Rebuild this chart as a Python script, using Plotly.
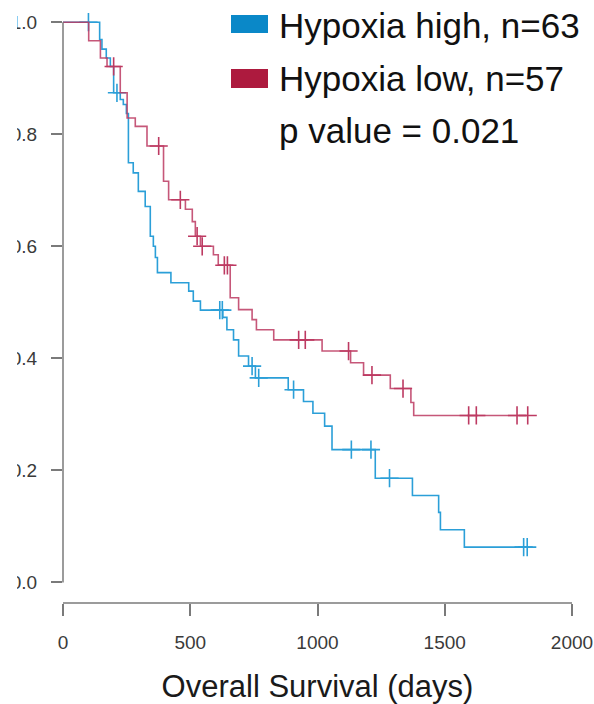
import plotly.graph_objects as go

# ---------------- data ----------------
high_label = "Hypoxia high, n=63"
low_label = "Hypoxia low, n=57"
p_text = "p value = 0.021"

# Hypoxia high: step points (day of drop, survival after drop)
high_event_days = [144, 153, 170, 186, 199, 225, 237, 249, 257, 276, 296, 323, 343, 355, 363,
                   371, 424, 494, 512, 540, 628, 644, 670, 690, 729, 756, 885, 945, 982, 1028,
                   1057, 1227, 1373, 1476, 1483, 1577]
high_event_surv = [0.969, 0.952, 0.936, 0.921, 0.874, 0.862, 0.853, 0.837, 0.749, 0.731, 0.698,
                   0.671, 0.618, 0.600, 0.580, 0.553, 0.535, 0.520, 0.502, 0.486, 0.473, 0.451,
                   0.433, 0.404, 0.386, 0.365, 0.344, 0.323, 0.302, 0.279, 0.237, 0.186, 0.155,
                   0.125, 0.094, 0.063]
high_censor_days = [100, 212, 616, 626, 743, 769, 906, 1133, 1210, 1283, 1810, 1824]
high_censor_surv = [1.0, 0.874, 0.486, 0.486, 0.386, 0.365, 0.344, 0.237, 0.237, 0.186, 0.063, 0.063]
high_last_day = 1824

# Hypoxia low
low_event_days = [101, 147, 173, 225, 252, 284, 330, 395, 415, 481, 508, 520, 540, 591, 610,
                  657, 690, 743, 760, 828, 1018, 1130, 1181, 1286, 1367, 1378]
low_event_surv = [0.967, 0.936, 0.921, 0.874, 0.829, 0.814, 0.779, 0.716, 0.683, 0.666, 0.644,
                  0.618, 0.600, 0.585, 0.566, 0.508, 0.487, 0.469, 0.451, 0.433, 0.413, 0.392,
                  0.370, 0.346, 0.321, 0.298]
low_censor_days = [199, 376, 461, 527, 547, 634, 646, 926, 952, 1122, 1214, 1336, 1594, 1624, 1784, 1826]
low_censor_surv = [0.921, 0.779, 0.683, 0.618, 0.600, 0.566, 0.566, 0.433, 0.433, 0.413, 0.370,
                   0.346, 0.298, 0.298, 0.298, 0.298]
low_last_day = 1826

x_ticks = [0, 500, 1000, 1500, 2000]
y_ticks = [0.0, 0.2, 0.4, 0.6, 0.8, 1.0]
y_ticktext = ["0.0", "0.2", "0.4", "0.6", "0.8", "1.0"]
x_title = "Overall Survival (days)"

# ---------------- styling ----------------
W, H = 594, 704
ML, MR, MT, MB = 63, 22, 11, 101
PW, PH = W - ML - MR, H - MT - MB
Y_LO, Y_HI = -0.0368, 1.02

BLUE_BOX, RED_BOX = "#0a88c8", "#ad1a3e"
BLUE_LINE, RED_LINE = "#2b9fd8", "#bd3a62"
AXIS_COL = "#7a7a7a"
FONT = "Liberation Sans, Arial, Helvetica, sans-serif"


def px2x(px):
    return (px - ML) / PW


def py2y(py):
    return (H - MB - py) / PH


def yval2paper(v):
    return (v - Y_LO) / (Y_HI - Y_LO)


def km_trace(days, surv, last_day, color, name):
    xs = [0] + list(days) + [last_day]
    ys = [1.0] + list(surv) + [surv[-1]]
    return go.Scatter(x=xs, y=ys, mode="lines", line=dict(color=color, width=1.6, shape="hv"),
                      name=name, showlegend=False, hoverinfo="skip")


def censor_trace(days, surv, color, name):
    return go.Scatter(x=days, y=surv, mode="markers", name=name, showlegend=False,
                      marker=dict(symbol="cross-thin", size=13, line=dict(color=color, width=1.6)),
                      cliponaxis=False, hoverinfo="skip")


fig = go.Figure()
fig.add_trace(km_trace(high_event_days, high_event_surv, high_last_day, BLUE_LINE, high_label))
fig.add_trace(censor_trace(high_censor_days, high_censor_surv, BLUE_LINE, high_label + " censored"))
fig.add_trace(km_trace(low_event_days, low_event_surv, low_last_day, RED_LINE, low_label))
fig.add_trace(censor_trace(low_censor_days, low_censor_surv, RED_LINE, low_label + " censored"))
fig.data[2].opacity = 0.85

shapes = [
    # y axis line (0 .. 1)
    dict(type="line", xref="paper", yref="paper", x0=0, x1=0,
         y0=yval2paper(0), y1=yval2paper(1), line=dict(color=AXIS_COL, width=1.5)),
    # x axis line (0 .. 2000), detached below the data
    dict(type="line", xref="paper", yref="paper", x0=0, x1=1, y0=0, y1=0,
         line=dict(color=AXIS_COL, width=1.5)),
    # white band on the left (reference is cropped through the y labels)
    dict(type="rect", xref="paper", yref="paper", x0=px2x(-5), x1=px2x(17),
         y0=py2y(H + 5), y1=py2y(-5), fillcolor="white", line=dict(width=0), layer="above"),
    # legend boxes
    dict(type="rect", xref="paper", yref="paper", x0=px2x(231), x1=px2x(268),
         y0=py2y(33), y1=py2y(15), fillcolor=BLUE_BOX, line=dict(width=0)),
    dict(type="rect", xref="paper", yref="paper", x0=px2x(231), x1=px2x(268),
         y0=py2y(88), y1=py2y(69), fillcolor=RED_BOX, line=dict(width=0)),
]

annotations = []
for txt, cy in [(high_label, 25.5), (low_label, 78.5), (p_text, 130.5)]:
    annotations.append(dict(text=txt, xref="paper", yref="paper", x=px2x(277), y=py2y(cy),
                            xanchor="left", yanchor="middle", showarrow=False,
                            font=dict(family=FONT, size=35, color="#111111")))

fig.update_layout(
    width=W, height=H,
    margin=dict(l=ML, r=MR, t=MT, b=MB, pad=0),
    plot_bgcolor="white", paper_bgcolor="white",
    font=dict(family=FONT),
    showlegend=False,
    shapes=shapes,
    annotations=annotations,
    xaxis=dict(range=[0, 2000], tickvals=x_ticks, ticks="outside", ticklen=12, tickwidth=1.5,
               tickcolor=AXIS_COL, showgrid=False, zeroline=False, showline=False,
               tickfont=dict(family=FONT, size=19, color="#3a3a3a"), ticklabelstandoff=10,
               title=dict(text=x_title, font=dict(family=FONT, size=31, color="#1a1a1a"), standoff=23),
               automargin=False, fixedrange=True),
    yaxis=dict(range=[Y_LO, Y_HI], tickvals=y_ticks, ticktext=y_ticktext, ticks="outside",
               ticklen=11, tickwidth=1.5, tickcolor=AXIS_COL, showgrid=False, zeroline=False,
               showline=False, tickfont=dict(family=FONT, size=19, color="#3a3a3a"),
               ticklabelstandoff=10, automargin=False, fixedrange=True),
)

fig.write_html("out.html", config={"displayModeBar": False},
               post_script="document.body.style.margin='0';document.body.style.overflow='hidden';")
